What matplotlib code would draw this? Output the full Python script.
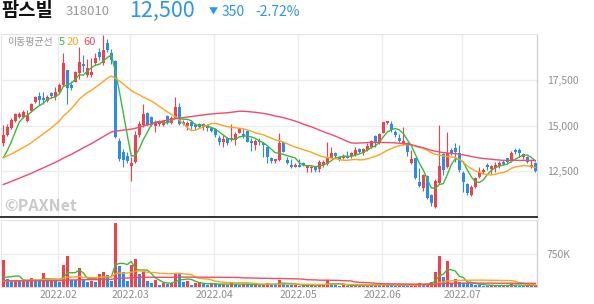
import matplotlib
matplotlib.use("Agg")
import matplotlib.pyplot as plt
import numpy as np
import pandas as pd

plt.rcParams['font.family'] = ['Noto Sans CJK KR', 'DejaVu Sans']

# ---------------- data ----------------
holidays = ['2022-01-31', '2022-02-01', '2022-02-02', '2022-03-01', '2022-03-09',
            '2022-05-05', '2022-06-01', '2022-06-06']
dates = [d for d in pd.bdate_range('2022-01-11', '2022-07-27')
         if d.strftime('%Y-%m-%d') not in holidays]

opens = [14027, 14482, 14883, 15247, 15465, 15483, 15247, 15793, 16304, 16613,
         16486, 16358, 16750, 16577, 16850, 17214, 18034, 17214, 17396, 17852,
         18362, 17760, 17760, 18398, 19035, 18398, 19500, 18944, 18525, 14154,
         13572, 13353, 12807, 12989, 14482, 15028, 15666, 15484, 14992, 15065,
         15028, 15520, 15120, 15429, 16030, 15174, 14992, 15174, 15028, 15065,
         14937, 15028, 14846, 14800, 14336, 14081, 14300, 14209, 14209, 14609,
         14518, 14700, 14154, 13936, 14154, 14027, 13808, 13207, 13062, 13116,
         14118, 13116, 12843, 12752, 12843, 12934, 12697, 12661, 12752, 12625,
         12843, 12880, 13243, 13480, 13280, 13243, 13353, 13353, 13389, 13717,
         13480, 13663, 13845, 14427, 14027, 14573, 15120, 15065, 14664, 14300,
         13972, 14027, 12934, 13207, 11932, 11605, 12260, 11204, 10567, 11841,
         13426, 12752, 13663, 13754, 13480, 12388, 11787, 11204, 11659, 12206,
         12443, 12843, 12625, 12698, 12807, 13025, 13207, 13062, 13663, 13663,
         13298, 13298, 12752, 12950]
highs = [15028, 15065, 15390, 15700, 15720, 15850, 15850, 16230, 16630, 16850,
         16850, 16660, 16850, 17123, 17300, 18944, 18050, 17450, 18000, 19308,
         18853, 18617, 18671, 18944, 19217, 19946, 19700, 19180, 18580, 14300,
         13700, 13572, 13298, 14700, 15247, 16176, 15757, 15520, 15300, 15300,
         15300, 15600, 15500, 16558, 16212, 15300, 15247, 15300, 15150, 15120,
         15120, 15065, 14937, 14846, 14482, 14482, 14391, 15065, 14664, 14882,
         14882, 14755, 14300, 14263, 14300, 14081, 13845, 13298, 13153, 14573,
         14154, 13298, 13171, 12970, 13171, 13025, 12843, 12843, 12752, 13116,
         13116, 14118, 13845, 13572, 13353, 13425, 13608, 13536, 13845, 13790,
         13754, 14027, 14209, 14482, 14573, 15210, 15247, 15247, 14755, 14518,
         14937, 14118, 13663, 13243, 12697, 12333, 12297, 11240, 12079, 15028,
         13480, 14627, 13790, 14027, 13936, 12515, 11841, 11750, 12206, 12752,
         12661, 12934, 12843, 13025, 13062, 13116, 13243, 13608, 13790, 13790,
         13480, 13353, 13116, 13000]
lows = [13900, 14445, 14810, 15210, 15410, 15400, 15175, 15720, 16230, 16122,
        16177, 16300, 16500, 16395, 16800, 17150, 16200, 16950, 17350, 17560,
        17943, 17670, 17670, 18307, 18580, 18307, 19035, 18343, 14300, 13062,
        12752, 12934, 11987, 12934, 14391, 14937, 15000, 14990, 14664, 15000,
        14990, 15065, 15065, 15400, 15028, 15028, 14755, 14810, 14755, 14846,
        14755, 14700, 14664, 14391, 13936, 13845, 13936, 14154, 13936, 14573,
        14300, 14081, 13608, 13663, 13936, 13298, 12934, 12934, 12934, 13062,
        13535, 12880, 12661, 12716, 12734, 12807, 12479, 12479, 12443, 12443,
        12752, 12843, 13207, 13298, 13062, 13171, 13207, 13243, 13353, 13480,
        13389, 13608, 13790, 13845, 13972, 14573, 15065, 14664, 14391, 14081,
        13936, 13353, 12898, 12079, 11659, 11440, 10986, 10622, 10476, 11787,
        12297, 12697, 13389, 13025, 12479, 11350, 11204, 11167, 11604, 12151,
        12333, 12570, 12333, 12479, 12697, 12843, 12934, 13025, 13426, 13298,
        13171, 12934, 12700, 12450]
closes = [14482, 14937, 15300, 15610, 15610, 15720, 15575, 16175, 16541, 16395,
          16395, 16577, 16600, 16850, 17214, 18398, 17032, 17032, 17943, 18489,
          18252, 18125, 17943, 18671, 18725, 19126, 19126, 18580, 14391, 13171,
          13116, 13062, 12934, 14482, 15065, 15629, 15028, 15028, 15174, 15210,
          15247, 15120, 15429, 16030, 15065, 15065, 15120, 14992, 14937, 14937,
          15065, 14846, 14700, 14482, 14118, 14263, 14027, 14300, 14518, 14791,
          14427, 14118, 14027, 14154, 14081, 13936, 13298, 13062, 13153, 14027,
          13572, 12934, 12752, 12843, 12752, 12843, 12807, 12752, 12570, 13025,
          13025, 13298, 13480, 13353, 13171, 13335, 13243, 13480, 13663, 13535,
          13700, 13900, 14154, 14118, 14537, 15174, 15247, 14755, 14482, 14154,
          14154, 13535, 13171, 12115, 11714, 12297, 11058, 10749, 11969, 12788,
          12570, 13480, 13517, 13572, 12570, 11896, 11295, 11659, 12151, 12443,
          12570, 12752, 12807, 12843, 12934, 12880, 12989, 13480, 13535, 13480,
          13426, 13025, 12850, 12500]
volumes_k = [607, 178, 163, 170, 150, 165, 140, 200, 150, 140,
             317, 140, 170, 140, 125, 486, 706, 160, 155, 420,
             160, 125, 140, 125, 290, 331, 275, 150, 1440, 470,
             330, 150, 490, 640, 300, 350, 140, 100, 160, 60,
             90, 70, 90, 290, 289, 125, 130, 52, 90, 110,
             70, 60, 85, 75, 65, 70, 55, 89, 70, 60,
             75, 65, 50, 60, 45, 70, 100, 60, 55, 165,
             90, 60, 45, 50, 40, 55, 45, 60, 40, 50,
             60, 162, 80, 50, 40, 45, 35, 50, 40, 55,
             45, 60, 50, 55, 45, 70, 50, 45, 40, 60,
             55, 45, 60, 70, 89, 70, 80, 110, 333, 697,
             240, 586, 100, 190, 120, 95, 85, 70, 60, 45,
             40, 35, 45, 40, 38, 45, 40, 75, 50, 40,
             35, 45, 40, 42]

# sessions before the visible window (only feed the moving averages)
pre_closes = [10200, 10150, 10300, 10250, 10400, 10350, 10500, 10450, 10600, 10550,
              10700, 10650, 10800, 10750, 10900, 10850, 11000, 10950, 11100, 11050,
              11150, 11200, 11100, 11250, 11300, 11250, 11400, 11350, 11450, 11400,
              11500, 11450, 11550, 11500, 11650, 11600, 11750, 11700, 11850, 11800,
              13100, 13300, 13200, 13350, 13150, 13250, 13400, 13200, 13300, 13150,
              13250, 13350, 13200, 13300, 13250, 13000, 12900, 12850, 12970]
pre_volumes_k = [150, 140, 160, 130, 170, 145, 135, 155, 125, 165,
                 140, 150, 130, 160, 145, 135, 175, 140, 150, 130,
                 160, 145, 140, 135, 150, 155, 130, 145, 140, 160,
                 150, 135, 145, 140, 155, 130, 140, 150, 125, 145,
                 110, 120, 105, 125, 115, 110, 130, 105, 120, 115,
                 110, 125, 100, 120, 115, 110, 125, 115, 118]

ma_periods = [5, 20, 60]
ma_colors = ['#3cb93c', '#ffa41c', '#f24a6c']
y_ticks = [12500, 15000, 17500]
vol_ticks = [750000]
vol_tick_labels = ['750K']

# ---------------- drawing ----------------
RED = '#f4404c'
BLUE = '#2e8bee'
W, H = 594, 304
fig = plt.figure(figsize=(W / 100, H / 100), dpi=100)

def fx(px):
    return px / W

def fy(py):
    return 1 - py / H

ax = fig.add_axes([fx(1), fy(217), fx(536), 183 / H])
axv = fig.add_axes([fx(1), fy(287.3), fx(536), 67.3 / H])

n = len(closes)
x = np.arange(n)
O = np.array(opens); Hh = np.array(highs); L = np.array(lows); C = np.array(closes)
up = C >= O
ccol = np.where(up, RED, BLUE)

ax.vlines(x, L, Hh, colors=ccol, linewidth=0.8, zorder=3)
body_h = np.maximum(np.abs(C - O), 40)
ax.bar(x, body_h, bottom=np.minimum(O, C), width=0.68, color=ccol, linewidth=0, zorder=4)

all_c = pd.Series(pre_closes + closes, dtype=float)
for p, col in zip(ma_periods, ma_colors):
    ma = all_c.rolling(p).mean().values[len(pre_closes):]
    ax.plot(x, ma, color=col, linewidth=1.0, zorder=5)

vol = np.array(volumes_k) * 1000.0
prev = np.concatenate([[pre_volumes_k[-1] * 1000.0], vol[:-1]])
vcol = np.where(vol >= prev, RED, BLUE)
axv.bar(x, vol, width=0.72, color=vcol, linewidth=0, zorder=3)
all_v = pd.Series(pre_volumes_k + volumes_k, dtype=float) * 1000.0
for p, col in zip(ma_periods, ma_colors):
    mv = all_v.rolling(p).mean().values[len(pre_volumes_k):]
    axv.plot(x, mv, color=col, linewidth=1.0, zorder=4)

xl = (-0.575, n - 0.575)
ax.set_xlim(*xl)
axv.set_xlim(*xl)
ax.set_ylim(10000, 20000)
axv.set_ylim(0, 1500000)

# month ticks
month_idx = []
month_lab = []
for i in range(1, n):
    if dates[i].month != dates[i - 1].month:
        month_idx.append(i - 0.3)
        month_lab.append(dates[i].strftime('%Y.%m'))

grid_c = '#ececec'
for a in (ax, axv):
    a.set_xticks(month_idx)
    a.grid(True, color=grid_c, linewidth=0.9, zorder=0)
    a.set_axisbelow(True)
    for s in ('left', 'top'):
        a.spines[s].set_color('#e6e6e6')
        a.spines[s].set_linewidth(0.8)
    a.spines['right'].set_color('#cfcfcf')
    a.spines['right'].set_linewidth(0.9)
    a.yaxis.tick_right()
    a.tick_params(axis='both', which='both', length=0, labelsize=7.5, labelcolor='#8f8f8f')

ax.spines['bottom'].set_color('#333333')
ax.spines['bottom'].set_linewidth(1.4)
ax.set_xticklabels([])
ax.set_yticks(y_ticks)
ax.set_yticklabels([f'{v:,}' for v in y_ticks])
ax.tick_params(axis='y', pad=7)
ax.set_yticks([20000], minor=True)
ax.grid(True, which='minor', axis='y', color=grid_c, linewidth=0.9)

axv.spines['bottom'].set_color('#dddddd')
axv.set_yticks(vol_ticks)
axv.set_yticklabels(vol_tick_labels)
axv.set_yticks([1500000], minor=True)
axv.grid(True, which='minor', axis='y', color=grid_c, linewidth=0.9)
axv.tick_params(axis='y', pad=7)
axv.set_xticklabels(month_lab)
axv.tick_params(axis='x', pad=2, labelsize=7.5)

# header
fig.text(fx(1), fy(10.5), '팜스빌', fontsize=13.5, fontweight='bold', color='#111111', va='center', ha='left')
fig.text(fx(66), fy(11.5), '318010', fontsize=9.5, color='#9a9a9a', va='center', ha='left')
fig.text(fx(129), fy(10.5), '12,500', fontsize=15.5, color='#2a96ee', va='center', ha='left')
fig.text(fx(209), fy(11.5), '▼', fontsize=6.5, color='#2a96ee', va='center', ha='left')
fig.text(fx(222), fy(11.5), '350', fontsize=10, color='#2a96ee', va='center', ha='left')
fig.text(fx(255), fy(11.5), '-2.72%', fontsize=10, color='#2a96ee', va='center', ha='left')

# legend
fig.text(fx(7), fy(41.7), '이동평균선', fontsize=7.2, color='#999999', va='center', ha='left')
fig.text(fx(59), fy(41.7), '5', fontsize=8, color=ma_colors[0], va='center', ha='left')
fig.text(fx(67), fy(41.7), '20', fontsize=8, color=ma_colors[1], va='center', ha='left')
fig.text(fx(83), fy(41.7), '60', fontsize=8, color=ma_colors[2], va='center', ha='left')

# watermark
fig.text(fx(4), fy(206), '©PAXNet', fontsize=11.5, fontweight='bold', color='#c9c9c9', va='center', ha='left')

fig.savefig('out.png', dpi=100)
